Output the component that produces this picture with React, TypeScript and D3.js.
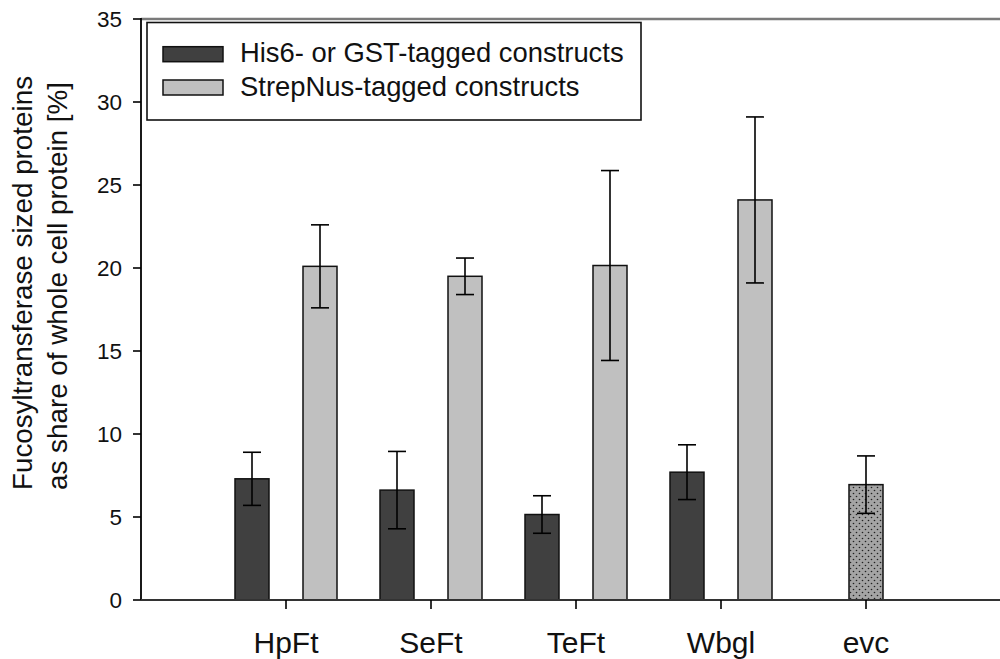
import React from "react";
import * as d3 from "d3";

// Constructs along the x axis
const categories = ["HpFt", "SeFt", "TeFt", "Wbgl", "evc"];

// His6- or GST-tagged constructs (first four categories)
const tagged = [7.3, 6.62, 5.15, 7.7];
const taggedErr = [1.6, 2.33, 1.13, 1.65];

// StrepNus-tagged constructs (first four categories)
const strep = [20.1, 19.5, 20.15, 24.1];
const strepErr = [2.5, 1.1, 5.72, 5.0];

// Empty vector control
const evcValue = [6.95];
const evcErr = [1.73];

const yTicks = [0, 5, 10, 15, 20, 25, 30, 35];
const legendLabels = ["His6- or GST-tagged constructs", "StrepNus-tagged constructs"];
const yTitle = ["Fucosyltransferase sized proteins", "as share of whole cell protein [%]"];

const W = 1000;
const H = 659;
const FONT = "'Liberation Sans', Arial, Helvetica, sans-serif";

export default function App() {
  const left = 141;
  const top = 19;
  const bottom = 600;
  const step = 145;

  const y = d3.scaleLinear().domain([0, 35]).range([bottom, top]);
  const x = d3.scaleLinear().domain([0, 6]).range([left, left + 6 * step]);
  const barW = 34;
  const offset = 34;
  const capW = 18;

  const darkFill = "#404040";
  const lightFill = "#c0c0c0";

  const errBar = (cx: number, v: number, e: number, key: string) => (
    <g key={key} stroke="#000" strokeWidth={1.6}>
      <line x1={cx} x2={cx} y1={y(v + e)} y2={y(v - e)} />
      <line x1={cx - capW / 2} x2={cx + capW / 2} y1={y(v + e)} y2={y(v + e)} />
      <line x1={cx - capW / 2} x2={cx + capW / 2} y1={y(v - e)} y2={y(v - e)} />
    </g>
  );

  const bar = (cx: number, v: number, fill: string, key: string) => (
    <rect
      key={key}
      x={cx - barW / 2}
      y={y(v)}
      width={barW}
      height={y(0) - y(v)}
      fill={fill}
      stroke="#111"
      strokeWidth={1.5}
    />
  );

  return (
    <svg
      width={W}
      height={H}
      viewBox={`0 0 ${W} ${H}`}
      style={{ position: "absolute", left: 0, top: 0, background: "#fff" }}
      fontFamily={FONT}
    >
      <defs>
        <pattern id="dots" width="6" height="6" patternUnits="userSpaceOnUse">
          <rect width="6" height="6" fill="#a4a4a4" />
          <circle cx="1.5" cy="1.5" r="0.8" fill="#222" />
          <circle cx="4.5" cy="4.5" r="0.8" fill="#222" />
        </pattern>
      </defs>

      {/* frame: top line and left axis */}
      <line x1={left} x2={W} y1={top} y2={top} stroke="#7a7a7a" strokeWidth={2.4} />
      <line x1={left} x2={left} y1={top - 1} y2={bottom} stroke="#000" strokeWidth={1.8} />

      {/* y ticks and labels */}
      {yTicks.map((t) => (
        <g key={`yt${t}`}>
          <line x1={left - 8} x2={left} y1={y(t)} y2={y(t)} stroke="#000" strokeWidth={1.6} />
          <text
            x={left - 19}
            y={y(t)}
            dy="0.36em"
            textAnchor="end"
            fontSize={22.5}
            fill="#111"
          >
            {t}
          </text>
        </g>
      ))}

      {/* bars */}
      {tagged.map((v, i) => bar(x(i + 1) - offset, v, darkFill, `d${i}`))}
      {strep.map((v, i) => bar(x(i + 1) + offset, v, lightFill, `l${i}`))}
      {evcValue.map((v, i) => (
        <rect
          key={`e${i}`}
          x={x(5) - barW / 2}
          y={y(v)}
          width={barW}
          height={y(0) - y(v)}
          fill="url(#dots)"
          stroke="#111"
          strokeWidth={1.5}
        />
      ))}

      {/* error bars */}
      {tagged.map((v, i) => errBar(x(i + 1) - offset, v, taggedErr[i], `de${i}`))}
      {strep.map((v, i) => errBar(x(i + 1) + offset, v, strepErr[i], `le${i}`))}
      {evcValue.map((v, i) => errBar(x(5), v, evcErr[i], `ee${i}`))}

      {/* x axis */}
      <line x1={left} x2={W} y1={bottom} y2={bottom} stroke="#333" strokeWidth={2} />
      {categories.map((c, i) => (
        <g key={`xc${c}`}>
          <line x1={x(i + 1)} x2={x(i + 1)} y1={bottom} y2={bottom + 9} stroke="#000" strokeWidth={1.6} />
          <text x={x(i + 1)} y={653} textAnchor="middle" fontSize={30} fill="#111">
            {c}
          </text>
        </g>
      ))}

      {/* y axis title */}
      {yTitle.map((t, i) => (
        <text
          key={`yti${i}`}
          transform={`translate(${31.7 + i * 35},490) rotate(-90)`}
          textAnchor="start"
          fontSize={27.8}
          fill="#111"
        >
          {t}
        </text>
      ))}

      {/* legend */}
      <rect x={147} y={22.5} width={494} height={97.5} fill="#fff" stroke="#111" strokeWidth={1.6} />
      {legendLabels.map((l, i) => (
        <g key={`lg${i}`}>
          <rect
            x={163}
            y={i === 0 ? 46.7 : 80}
            width={60}
            height={15}
            fill={i === 0 ? darkFill : lightFill}
            stroke="#111"
            strokeWidth={1.5}
          />
          <text x={240} y={i === 0 ? 62 : 95.5} fontSize={27.4} fill="#111">
            {l}
          </text>
        </g>
      ))}
    </svg>
  );
}
